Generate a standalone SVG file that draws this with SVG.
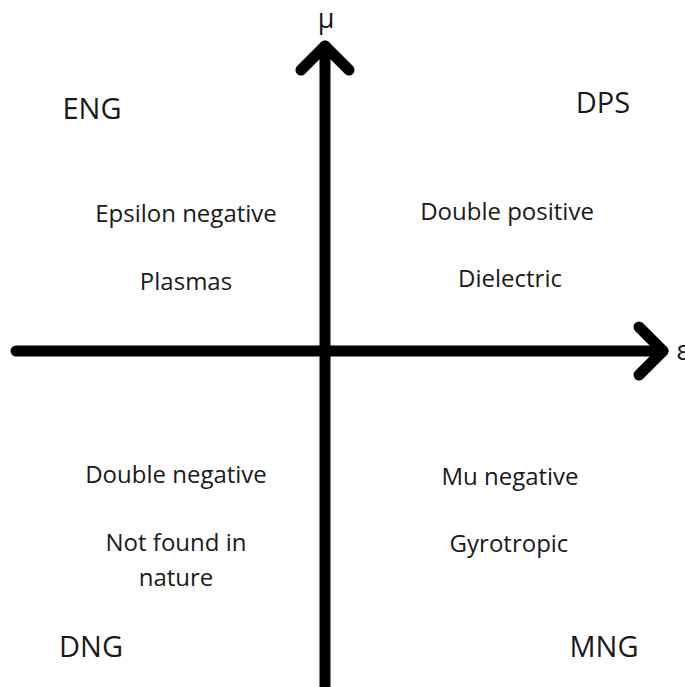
<svg xmlns="http://www.w3.org/2000/svg" width="685" height="687" viewBox="0 0 685 687">
  <style>
    text { font-family: "Open Sans", "Noto Sans", sans-serif; fill: #1a1a1a; text-anchor: middle; }
    .label { font-size: 24px; }
    .sym { font-size: 27px; }
    .code { font-size: 29px; }
    .axis { stroke: #000; stroke-width: 11; stroke-linecap: round; stroke-linejoin: round; fill: none; }
  </style>
  <rect width="685" height="687" fill="#fff"/>

  <g id="axes">
    <!-- epsilon axis -->
    <path class="axis" d="M16 351 H663"/>
    <path class="axis" d="M639 327 L663 351 L639 375"/>
    <!-- mu axis -->
    <path class="axis" d="M325 690 V46"/>
    <path class="axis" d="M301 70 L325 46 L349 70"/>
    <text class="sym" x="326" y="28">μ</text>
    <text class="sym" x="683" y="360">ε</text>
  </g>

  <g id="eng">
    <text class="code" x="92" y="119">ENG</text>
    <text class="label" x="186" y="222">Epsilon negative</text>
    <text class="label" x="186" y="290">Plasmas</text>
  </g>

  <g id="dps">
    <text class="code" x="603" y="113">DPS</text>
    <text class="label" x="507" y="220">Double positive</text>
    <text class="label" x="510" y="287">Dielectric</text>
  </g>

  <g id="dng">
    <text class="label" x="176" y="483">Double negative</text>
    <text class="label" x="176" y="551">Not found in</text>
    <text class="label" x="176" y="586">nature</text>
    <text class="code" x="91" y="657">DNG</text>
  </g>

  <g id="mng">
    <text class="label" x="510" y="485">Mu negative</text>
    <text class="label" x="509" y="552">Gyrotropic</text>
    <text class="code" x="604" y="657">MNG</text>
  </g>
</svg>
